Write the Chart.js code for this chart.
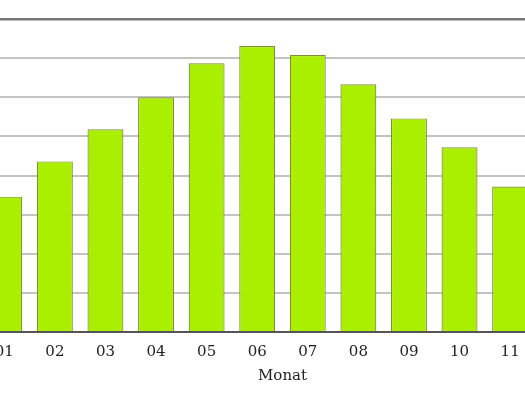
<!DOCTYPE html>
<html>
<head>
<meta charset="utf-8">
<script src="https://cdn.jsdelivr.net/npm/chart.js@4/dist/chart.umd.min.js"></script>
<style>
  html, body { margin: 0; padding: 0; background: #fff; }
  #wrap { position: relative; width: 525px; height: 394px; overflow: hidden; }
  #holder { position: absolute; left: -21px; top: 0; width: 607px; height: 394px; }
</style>
</head>
<body>
<div id="wrap">
  <div id="holder"><canvas id="chart"></canvas></div>
</div>
<script>
// Monate (x-Achse)
var months = ["01", "02", "03", "04", "05", "06", "07", "08", "09", "10", "11", "12"];
// Werte pro Monat
var values = [3.46, 4.36, 5.18, 6.0, 6.87, 7.31, 7.08, 6.33, 5.46, 4.72, 3.72, 3.2];
// y-Achse
var yMin = 0;
var yMax = 8;
var yStep = 1;
var xTitle = "Monat";

var ctx = document.getElementById("chart").getContext("2d");
new Chart(ctx, {
  type: "bar",
  data: {
    labels: months,
    datasets: [{
      data: values,
      backgroundColor: "#aaee00",
      borderColor: "#7f8f30",
      borderWidth: 1.2,
      borderSkipped: "bottom",
      categoryPercentage: 1.0,
      barPercentage: 0.71
    }]
  },
  options: {
    responsive: true,
    maintainAspectRatio: false,
    animation: false,
    layout: { padding: { top: 19, left: 0, right: 0, bottom: 9 } },
    plugins: {
      legend: { display: false },
      tooltip: { enabled: false }
    },
    scales: {
      x: {
        grid: { display: false },
        border: { display: true, color: "#555555", width: 2 },
        ticks: {
          color: "#222222",
          padding: 3,
          font: { family: "DejaVu Serif", size: 15 }
        },
        title: {
          display: true,
          text: xTitle,
          color: "#222222",
          padding: { top: 3, bottom: 0 },
          font: { family: "DejaVu Serif", size: 15 }
        }
      },
      y: {
        min: yMin,
        max: yMax,
        ticks: { display: false, stepSize: yStep },
        border: { display: false },
        grid: {
          drawTicks: false,
          color: function(c) {
            return c.tick && c.tick.value === yMax ? "#777777" : "#c4c4c4";
          },
          lineWidth: function(c) {
            return c.tick && c.tick.value === yMax ? 2.5 : 2;
          }
        }
      }
    }
  }
});
</script>
</body>
</html>
